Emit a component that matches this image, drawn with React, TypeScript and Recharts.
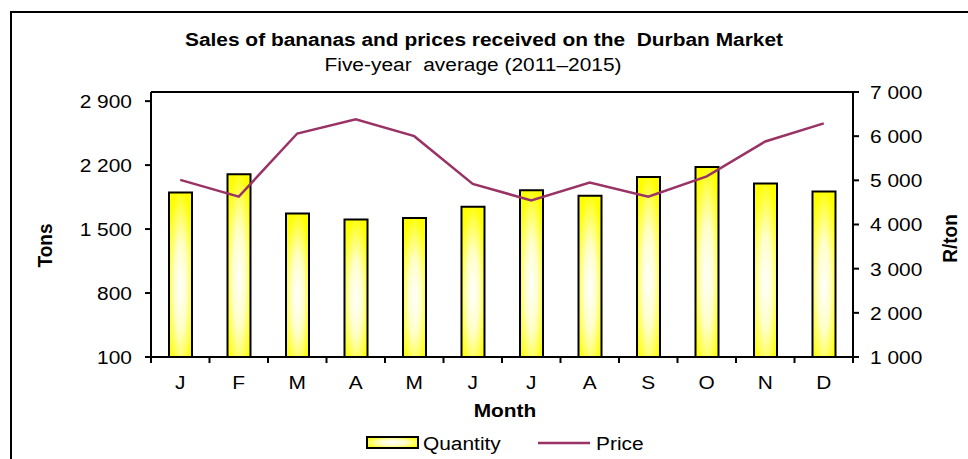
import React from 'react';
import { ComposedChart, Bar, Line, XAxis, YAxis, ReferenceLine } from 'recharts';

const months = ['J', 'F', 'M', 'A', 'M', 'J', 'J', 'A', 'S', 'O', 'N', 'D'];
const quantity = [1900, 2100, 1670, 1605, 1620, 1745, 1925, 1865, 2070, 2180, 2000, 1910];
const price = [5010, 4630, 6060, 6380, 6000, 4920, 4545, 4950, 4630, 5090, 5880, 6290];
const tonsTicks = [100, 800, 1500, 2200, 2900];
const priceTicks = [1000, 2000, 3000, 4000, 5000, 6000, 7000];

const data = months.map((m, i) => ({ month: m, quantity: quantity[i], price: price[i] }));

const FONT = '"Liberation Sans", Arial, sans-serif';
const FS = 19;
const SX = 1.1; // the source text is a little wider than plain Arial
const PRICE_COLOR = '#993366';

const fmt = (v: number) => v.toLocaleString('en-US').replace(/,/g, ' ');

// text widened around its anchor point
const Wide = ({ x, y, anchor = 'middle', bold = false, children }: any) => (
  <text
    x={x}
    y={y}
    textAnchor={anchor}
    fontSize={FS}
    fontWeight={bold ? 'bold' : 'normal'}
    fontFamily={FONT}
    fill="#000"
    xmlSpace="preserve"
    transform={`translate(${x} 0) scale(${SX} 1) translate(${-x} 0)`}
  >
    {children}
  </text>
);

// month letter plus a tick mark on the band boundaries
const MonthTick = (props: any) => {
  const { x, y, payload, index } = props;
  const half = payload?.offset ?? 0;
  const axisY = y - 19;
  return (
    <g>
      <line x1={x - half} x2={x - half} y1={axisY} y2={axisY + 6} stroke="#000" strokeWidth={2} />
      {index === months.length - 1 && (
        <line x1={x + half} x2={x + half} y1={axisY} y2={axisY + 6} stroke="#000" strokeWidth={2} />
      )}
      <Wide x={x} y={y + 13}>{payload.value}</Wide>
    </g>
  );
};

const ValueTick = (anchor: 'start' | 'end') => (props: any) => (
  <Wide x={props.x} y={props.y + 7} anchor={anchor}>{fmt(props.payload.value)}</Wide>
);

const SideLabel = (text: string, side: 'left' | 'right', drop: number) => (props: any) => {
  const vb = props.viewBox || {};
  const cx = side === 'left' ? vb.x + 13 : vb.x + vb.width - 14;
  const cy = vb.y + vb.height / 2 + drop;
  return (
    <text
      x={0}
      y={0}
      transform={`translate(${cx} ${cy}) scale(${SX} 1) rotate(-90)`}
      textAnchor="middle"
      dy="0.36em"
      fontSize={FS}
      fontWeight="bold"
      fontFamily={FONT}
      fill="#000"
    >
      {text}
    </text>
  );
};

const MonthLabel = (props: any) => {
  const vb = props.viewBox || {};
  return <Wide x={vb.x + vb.width / 2 + 3} y={417} bold>Month</Wide>;
};

const App: React.FC = () => {
  return (
    <div style={{ position: 'absolute', left: 0, top: 0, width: 968, height: 459, overflow: 'hidden', background: '#fff', fontFamily: FONT }}>
      {/* outer chart border, runs off the right and bottom edges */}
      <div style={{ position: 'absolute', left: 10, top: 11, width: 1000, height: 500, border: '2px solid #000', boxSizing: 'border-box' }} />

      <div style={{ position: 'absolute', left: 0, top: 0 }}>
        <ComposedChart width={968} height={459} data={data} margin={{ top: 92, right: 5, left: 31, bottom: 42 }}>
          <defs>
            <radialGradient id="barFill" cx="0.5" cy="0.57" r="0.6">
              <stop offset="0%" stopColor="#ffffff" />
              <stop offset="45%" stopColor="#ffffc8" />
              <stop offset="100%" stopColor="#ffff00" />
            </radialGradient>
          </defs>
          <XAxis
            dataKey="month"
            height={60}
            stroke="#000"
            strokeWidth={2}
            tickLine={false}
            tickSize={6}
            tickMargin={13}
            interval={0}
            tick={<MonthTick />}
            label={{ content: MonthLabel }}
          />
          <YAxis
            yAxisId="left"
            width={120}
            domain={[100, 3000]}
            ticks={tonsTicks}
            stroke="#000"
            strokeWidth={2}
            tickSize={6}
            tickMargin={13}
            tick={ValueTick('end')}
            label={{ content: SideLabel('Tons', 'left', 21) }}
          />
          <YAxis
            yAxisId="right"
            orientation="right"
            width={110}
            domain={[1000, 7000]}
            ticks={priceTicks}
            stroke="#000"
            strokeWidth={2}
            tickSize={6}
            tickMargin={11}
            tick={ValueTick('start')}
            label={{ content: SideLabel('R/ton', 'right', 14) }}
          />
          <ReferenceLine yAxisId="left" y={3000} stroke="#000" strokeWidth={2} />
          <Bar yAxisId="left" dataKey="quantity" name="Quantity" barSize={23} fill="url(#barFill)" stroke="#000" strokeWidth={2} isAnimationActive={false} />
          <Line yAxisId="right" type="linear" dataKey="price" name="Price" stroke={PRICE_COLOR} strokeWidth={2.5} dot={false} isAnimationActive={false} />
        </ComposedChart>
      </div>

      {/* titles and legend */}
      <svg width={968} height={459} style={{ position: 'absolute', left: 0, top: 0, pointerEvents: 'none' }}>
        <defs>
          <radialGradient id="legFill" cx="0.5" cy="0.5" r="0.6">
            <stop offset="0%" stopColor="#ffffff" />
            <stop offset="45%" stopColor="#ffffc8" />
            <stop offset="100%" stopColor="#ffff00" />
          </radialGradient>
        </defs>
        <Wide x={484} y={46} bold>{'Sales of bananas and prices received on the\u00A0 Durban Market'}</Wide>
        <Wide x={473} y={71}>{'Five-year\u00A0 average (2011\u20132015)'}</Wide>
        <rect x={367} y={437} width={51} height={11} fill="url(#legFill)" stroke="#000" strokeWidth={2} />
        <Wide x={423} y={450} anchor="start">Quantity</Wide>
        <line x1={538} x2={590} y1={443} y2={443} stroke={PRICE_COLOR} strokeWidth={2.5} />
        <Wide x={596} y={450} anchor="start">Price</Wide>
      </svg>
    </div>
  );
};

export default App;
